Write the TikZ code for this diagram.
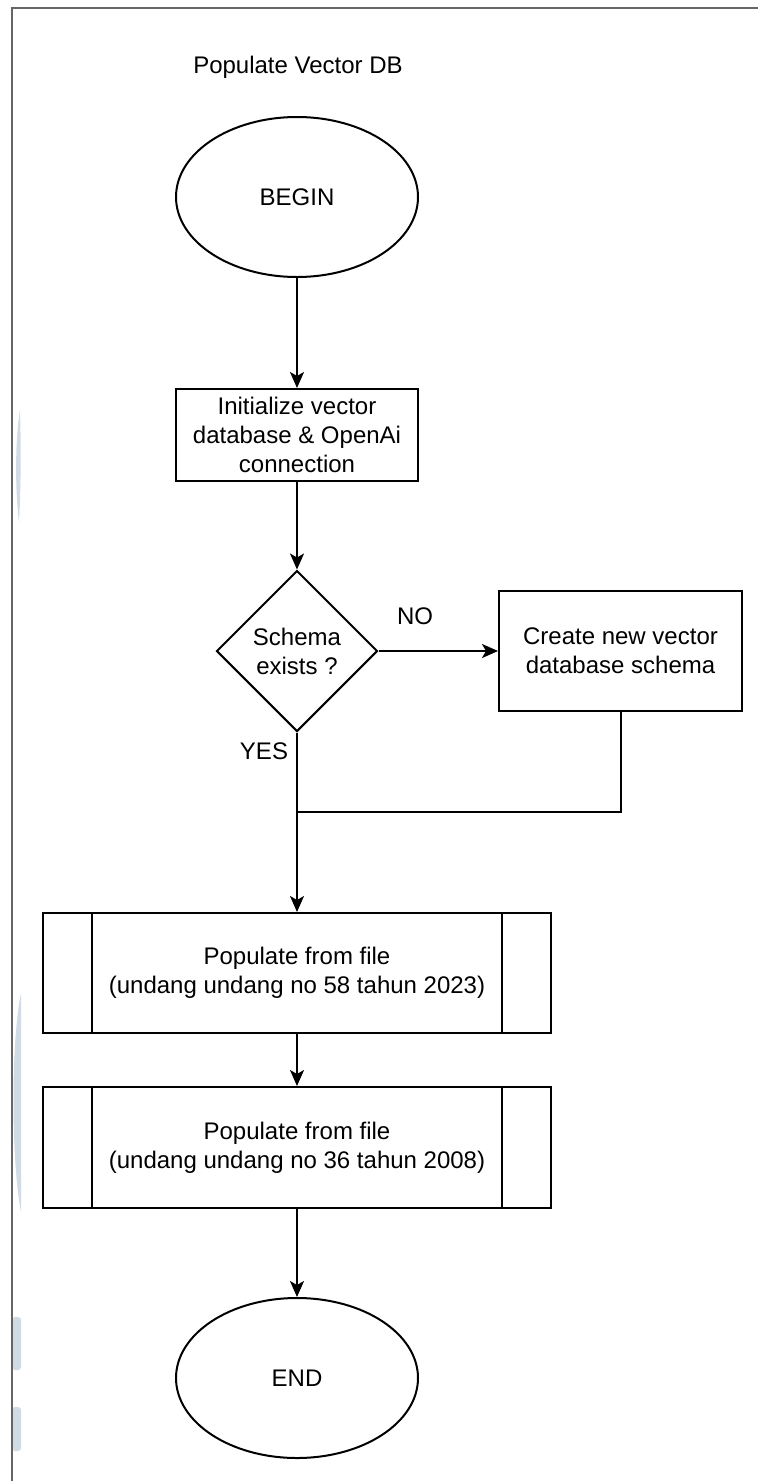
\documentclass[tikz,border=0pt]{standalone}
\usepackage{fontspec}
\setmainfont{Liberation Sans}
\usetikzlibrary{shapes.geometric,arrows.meta}
\definecolor{frame}{HTML}{666666}
\definecolor{wmark}{HTML}{D0DBE6}
\tikzset{
  base/.style={draw=black, line width=2pt, align=center, inner sep=0pt,
    font=\fontsize{24}{29}\selectfont},
  terminal/.style={base, ellipse, minimum width=242pt, minimum height=160pt},
  process/.style={base, rectangle},
  decision/.style={base, diamond, minimum width=161pt, minimum height=161pt},
  lbl/.style={font=\fontsize{24}{29}\selectfont, inner sep=0pt},
  flow/.style={line width=2pt, -{Stealth[length=16pt,width=14pt,inset=4pt]}},
  link/.style={line width=2pt},
}
\begin{document}
\begin{tikzpicture}[x=1pt,y=-1pt]
\useasboundingbox (0,0) rectangle (758,1481);
\fill[white] (0,0) rectangle (758,1481);

% faint marks along the left margin
\fill[wmark] (20,410) .. controls (15,440) and (15,490) .. (19,522)
  .. controls (21,490) and (21,440) .. (20,410) -- cycle;
\fill[wmark] (21,993) .. controls (11,1040) and (11,1160) .. (21,1212) -- cycle;
\fill[wmark, rounded corners=3pt] (12,1317) rectangle (21,1370);
\fill[wmark, rounded corners=3pt] (12,1407) rectangle (21,1451);

% page frame
\draw[frame, line width=2.5pt] (12,1481) -- (12,8) -- (758,8);

% title
\node[lbl] (title) at (298,67) {Populate Vector DB};

% nodes
\node[terminal] (begin) at (297,197) {BEGIN};
\node[process, minimum width=242pt, minimum height=92pt] (init) at (297,435)
  {Initialize vector\\database \& OpenAi\\connection};
\node[decision] (dec) at (297,651) {Schema\\exists ?};
\node[process, minimum width=243pt, minimum height=120pt] (create) at (620.5,651)
  {Create new vector\\database schema};
\node[process, minimum width=508pt, minimum height=120pt] (popa) at (297,973)
  {Populate from file\\(undang undang no 58 tahun 2023)};
\node[process, minimum width=508pt, minimum height=121pt] (popb) at (297,1147.5)
  {Populate from file\\(undang undang no 36 tahun 2008)};
\node[terminal] (end) at (297,1378) {END};

% side bars of the predefined-process boxes
\foreach \b in {popa,popb}{
  \draw[link] ([xshift=50pt]\b.north west) -- ([xshift=50pt]\b.south west);
  \draw[link] ([xshift=-50pt]\b.north east) -- ([xshift=-50pt]\b.south east);
}

% connectors
\coordinate (merge) at (297,812);
\draw[flow] (begin.south) -- (init.north);
\draw[flow] (init.south) -- (dec.north);
\draw[flow] (dec.east) -- (create.west);
\draw[link] (create.south) |- (merge);
\draw[flow] (dec.south) -- (popa.north);
\draw[flow] (popa.south) -- (popb.north);
\draw[flow] (popb.south) -- (end.north);

% branch labels
\node[lbl] (no) at (415,616) {NO};
\node[lbl] (yes) at (264,751) {YES};
\end{tikzpicture}
\end{document}
